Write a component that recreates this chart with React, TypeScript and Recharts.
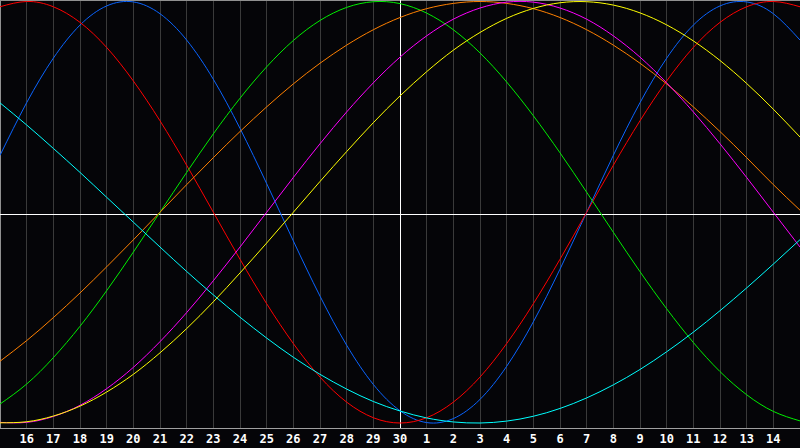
import React from 'react';
import { LineChart, Line, XAxis, YAxis, CartesianGrid, ReferenceLine } from 'recharts';

// Day labels for each column (index 0..30)
const dayLabels = [
  '15', '16', '17', '18', '19', '20', '21', '22', '23', '24', '25', '26', '27', '28', '29', '30',
  '1', '2', '3', '4', '5', '6', '7', '8', '9', '10', '11', '12', '13', '14', '15',
];

// Tick positions shown on the axis
const tickIdx = [1, 2, 3, 4, 5, 6, 7, 8, 9, 10, 11, 12, 13, 14, 15, 16, 17, 18, 19, 20, 21, 22, 23, 24, 25, 26, 27, 28, 29];

// Series values (range -1..1)
const physical = [
  0.270, 0.520, 0.731, 0.888, 0.979, 0.998, 0.942, 0.817, 0.631, 0.398, 0.136,
  -0.136, -0.398, -0.631, -0.817, -0.942, -0.998, -0.979, -0.888, -0.731, -0.520,
  -0.270, 0.000, 0.270, 0.520, 0.731, 0.888, 0.979, 0.998, 0.942, 0.817,
];
const emotional = [
  0.975, 1.000, 0.975, 0.901, 0.782, 0.623, 0.434, 0.223, 0.000, -0.223, -0.434,
  -0.623, -0.782, -0.901, -0.975, -1.000, -0.975, -0.901, -0.782, -0.623, -0.434,
  -0.223, 0.000, 0.223, 0.434, 0.623, 0.782, 0.901, 0.975, 1.000, 0.975,
];
const intellectual = [
  -0.910, -0.815, -0.690, -0.541, -0.372, -0.189, 0.000, 0.189, 0.372, 0.541, 0.690,
  0.815, 0.910, 0.972, 0.999, 0.990, 0.945, 0.866, 0.756, 0.618, 0.458,
  0.282, 0.095, -0.095, -0.282, -0.458, -0.618, -0.756, -0.866, -0.945, -0.990,
];
const awareness = [
  -0.707, -0.609, -0.500, -0.383, -0.259, -0.131, 0.000, 0.131, 0.259, 0.383, 0.500,
  0.609, 0.707, 0.793, 0.866, 0.924, 0.966, 0.991, 1.000, 0.991, 0.966,
  0.924, 0.866, 0.793, 0.707, 0.609, 0.500, 0.383, 0.259, 0.131, 0.010,
];
const intuitive = [
  -0.997, -0.997, -0.969, -0.916, -0.837, -0.736, -0.614, -0.476, -0.325, -0.165, 0.000,
  0.165, 0.325, 0.476, 0.614, 0.736, 0.837, 0.916, 0.969, 0.997, 0.997,
  0.969, 0.916, 0.837, 0.736, 0.614, 0.476, 0.325, 0.165, 0.000, -0.165,
];
const aesthetic = [
  -0.999, -0.994, -0.967, -0.920, -0.853, -0.769, -0.667, -0.552, -0.425, -0.288, -0.146,
  0.000, 0.146, 0.288, 0.425, 0.552, 0.667, 0.769, 0.853, 0.920, 0.967,
  0.994, 0.999, 0.983, 0.946, 0.889, 0.813, 0.720, 0.611, 0.489, 0.357,
];
const spiritual = [
  0.519, 0.414, 0.303, 0.189, 0.071, -0.047, -0.165, -0.281, -0.392, -0.498, -0.597,
  -0.688, -0.769, -0.839, -0.898, -0.943, -0.976, -0.995, -1.000, -0.991, -0.968,
  -0.931, -0.881, -0.819, -0.746, -0.662, -0.569, -0.467, -0.359, -0.246, -0.130,
];

const data = dayLabels.map((label, i) => ({
  i,
  label,
  physical: physical[i],
  emotional: emotional[i],
  intellectual: intellectual[i],
  awareness: awareness[i],
  intuitive: intuitive[i],
  aesthetic: aesthetic[i],
  spiritual: spiritual[i],
}));

const series = [
  { key: 'physical', color: '#0a64ff' },
  { key: 'emotional', color: '#ff0000' },
  { key: 'intellectual', color: '#00ee00' },
  { key: 'awareness', color: '#ff8000' },
  { key: 'intuitive', color: '#ff00ff' },
  { key: 'aesthetic', color: '#ffff00' },
  { key: 'spiritual', color: '#00ffff' },
];

const DayTick = (props: any) => {
  const { x, payload } = props;
  return (
    <text
      x={x}
      y={443}
      textAnchor="middle"
      fill="#ffffff"
      fontFamily="'DejaVu Sans Mono', monospace"
      fontWeight="bold"
      fontSize={12}
    >
      {dayLabels[payload.value]}
    </text>
  );
};

export default function App() {
  return (
    <div
      style={{
        position: 'absolute',
        left: 0,
        top: 0,
        width: 800,
        height: 448,
        background: '#050508',
        overflow: 'hidden',
      }}
    >
      <LineChart
        width={800}
        height={448}
        data={data}
        margin={{ top: 0, right: 0, bottom: 0, left: 0 }}
      >
        <CartesianGrid
          horizontal={false}
          vertical={true}
          stroke="#3a3a3a"
          strokeWidth={1}
          shapeRendering="crispEdges"
        />
        <XAxis
          dataKey="i"
          type="number"
          domain={[0, 30]}
          ticks={tickIdx}
          interval={0}
          tickLine={false}
          axisLine={{ stroke: '#a0a0a0', strokeWidth: 1, shapeRendering: 'crispEdges' }}
          tick={<DayTick />}
          height={20}
          allowDataOverflow
        />
        <YAxis hide type="number" domain={[-1.0237, 1.0071]} allowDataOverflow />
        <ReferenceLine x={0.02} stroke="#909090" strokeWidth={1} shapeRendering="crispEdges" />
        <ReferenceLine y={1.0048} stroke="#909090" strokeWidth={1} shapeRendering="crispEdges" />
        <ReferenceLine x={15} stroke="#ffffff" strokeWidth={1} shapeRendering="crispEdges" />
        <ReferenceLine y={-0.0107} stroke="#ffffff" strokeWidth={1} shapeRendering="crispEdges" />
        {series.map((s) => (
          <Line
            key={s.key}
            type="natural"
            dataKey={s.key}
            stroke={s.color}
            strokeWidth={1}
            dot={false}
            activeDot={false}
            isAnimationActive={false}
          />
        ))}
      </LineChart>
    </div>
  );
}
